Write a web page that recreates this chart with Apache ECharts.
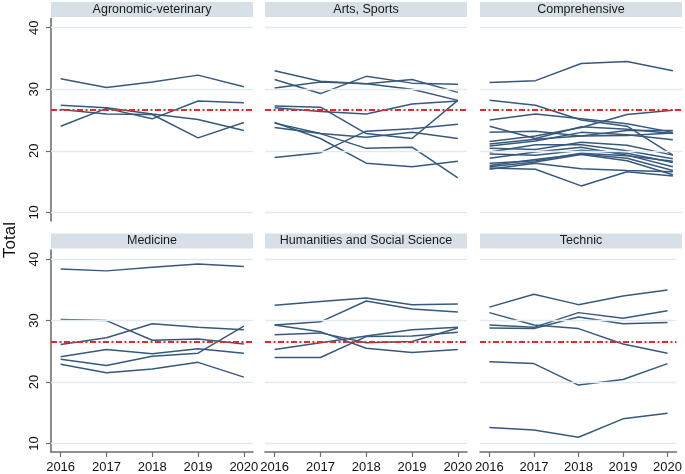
<!DOCTYPE html>
<html>
<head>
<meta charset="utf-8">
<script src="https://cdn.jsdelivr.net/npm/echarts@6/dist/echarts.min.js"></script>
<style>
html,body{margin:0;padding:0;background:#fff;}
#chart{width:685px;height:474px;}
</style>
</head>
<body>
<div id="chart"></div>
<script>
// ---------- DATA ----------
const years = [2016, 2017, 2018, 2019, 2020];
const yTickValues = [10, 20, 30, 40];
const referenceValue = 26.6;
const yAxisTitle = 'Total';
const panelNames = ['Agronomic-veterinary', 'Arts, Sports', 'Comprehensive', 'Medicine', 'Humanities and Social Science', 'Technic'];

const agronomic = [
  [31.7, 30.3, 31.2, 32.3, 30.4],
  [27.4, 27.0, 26.0, 25.1, 23.3],
  [26.7, 26.0, 25.9, 22.1, 24.6],
  [24.0, 26.9, 25.2, 28.1, 27.8]
];
const arts = [
  [33.0, 31.3, 30.9, 30.0, 28.2],
  [31.6, 29.3, 32.1, 31.0, 30.8],
  [30.2, 31.2, 30.9, 31.6, 29.5],
  [27.3, 27.1, 22.8, 22.0, 28.2],
  [27.0, 26.4, 26.0, 27.6, 28.1],
  [24.6, 22.0, 18.0, 17.4, 18.3],
  [24.5, 22.8, 20.4, 20.6, 15.6],
  [23.8, 22.8, 22.2, 23.0, 22.0],
  [18.9, 19.7, 23.2, 23.6, 24.3]
];
const comprehensive = [
  [31.1, 31.4, 34.2, 34.5, 33.0],
  [28.2, 27.4, 25.0, 24.0, 19.3],
  [25.0, 26.0, 25.2, 24.4, 23.0],
  [24.0, 22.0, 23.9, 23.5, 22.8],
  [23.0, 23.2, 22.4, 23.3, 23.3],
  [21.5, 22.4, 23.8, 25.9, 26.6],
  [21.1, 21.9, 22.4, 22.5, 22.9],
  [20.8, 21.6, 23.0, 22.6, 21.8],
  [20.4, 20.2, 21.4, 20.9, 19.3],
  [19.8, 21.0, 21.0, 20.0, 18.7],
  [19.5, 19.3, 20.1, 19.6, 18.1],
  [18.8, 19.8, 20.6, 19.3, 17.4],
  [18.0, 18.4, 19.6, 19.2, 18.3],
  [17.6, 18.6, 19.5, 18.8, 16.8],
  [17.4, 18.2, 19.4, 18.4, 16.1],
  [17.2, 17.0, 14.3, 16.6, 15.9],
  [17.0, 18.0, 17.1, 16.8, 16.6]
];
const medicine = [
  [38.4, 38.1, 38.7, 39.2, 38.8],
  [30.2, 30.0, 26.8, 27.0, 26.2],
  [26.1, 27.2, 29.5, 28.9, 28.5],
  [24.1, 25.3, 24.6, 25.4, 24.7],
  [23.7, 22.7, 24.2, 24.7, 29.1],
  [22.9, 21.5, 22.1, 23.2, 20.8]
];
const humanities = [
  [32.5, 33.1, 33.7, 32.6, 32.7],
  [29.3, 29.8, 33.2, 31.9, 31.4],
  [29.3, 28.2, 25.5, 24.8, 25.3],
  [27.7, 28.0, 26.4, 26.6, 28.8],
  [25.3, 26.4, 27.5, 28.5, 28.9],
  [24.0, 24.0, 27.4, 27.5, 28.1]
];
const technic = [
  [32.2, 34.3, 32.6, 34.0, 35.0],
  [31.3, 29.3, 28.7, 26.2, 24.7],
  [29.3, 28.9, 31.3, 30.4, 31.6],
  [28.8, 28.7, 30.6, 29.5, 29.7],
  [23.3, 23.0, 19.5, 20.4, 23.0],
  [12.6, 12.2, 11.0, 14.0, 14.9]
];
const panelData = [agronomic, arts, comprehensive, medicine, humanities, technic];

// ---------- LAYOUT / STYLE ----------
const colLeft = [51, 265, 480];
const panelWidth = 202;
const rowTop = [18.5, 250];
const panelHeight = 202.5;
const yMin = 8.6, yMax = 41.5;
const xMin = 2015.79, xMax = 2020.2;
const lineColor = '#36597d';
const gridLineColor = '#e3eaee';
const bandColor = '#d6e0e6';
const axisColor = '#6e6e6e';
const fontFamily = 'Liberation Sans, Arial, sans-serif';

const grids = [], xAxes = [], yAxes = [], series = [], graphics = [];

panelNames.forEach((name, i) => {
  const row = Math.floor(i / 3), col = i % 3;
  const left = colLeft[col], top = rowTop[row];
  grids.push({left: left, top: top, width: panelWidth, height: panelHeight, containLabel: false});
  const bottomRow = row === 1, leftCol = col === 0;
  xAxes.push({
    type: 'value', gridIndex: i, min: xMin, max: xMax,
    splitLine: {show: false},
    axisLine: {show: bottomRow, lineStyle: {color: axisColor, width: 1.6}},
    axisTick: {show: bottomRow, customValues: years, length: 5, lineStyle: {color: axisColor, width: 1.2}},
    axisLabel: {show: bottomRow, customValues: years, formatter: v => String(v), color: '#111', fontSize: 13, fontFamily: fontFamily, margin: 9}
  });
  yAxes.push({
    type: 'value', gridIndex: i, min: yMin, max: yMax,
    splitLine: {show: false},
    axisLine: {show: leftCol, onZero: false, lineStyle: {color: axisColor, width: 1.6}},
    axisTick: {show: leftCol, customValues: yTickValues, length: 5, lineStyle: {color: axisColor, width: 1.2}},
    axisLabel: {show: leftCol, customValues: yTickValues, rotate: 90, color: '#111', fontSize: 13, fontFamily: fontFamily, margin: 10}
  });
  // gridlines
  series.push({
    type: 'line', xAxisIndex: i, yAxisIndex: i, data: [], silent: true, z: 1,
    markLine: {
      silent: true, symbol: 'none', animation: false,
      label: {show: false},
      data: yTickValues.map(v => ({yAxis: v, lineStyle: {color: gridLineColor, width: 1.3, type: 'solid'}}))
    }
  });
  panelData[i].forEach(vals => {
    series.push({
      type: 'line', xAxisIndex: i, yAxisIndex: i, z: 3,
      data: years.map((y, k) => [y, vals[k]]),
      symbol: 'none', animation: false, silent: true,
      lineStyle: {color: lineColor, width: 1.5}
    });
  });
  // reference line
  series.push({
    type: 'line', xAxisIndex: i, yAxisIndex: i, data: [], silent: true, z: 5,
    markLine: {
      silent: true, symbol: 'none', animation: false,
      label: {show: false},
      data: [{yAxis: referenceValue}],
      lineStyle: {color: '#e8262b', width: 2, type: [6, 2.5, 2, 2.5]}
    }
  });
  // panel title band
  graphics.push({
    type: 'rect', shape: {x: left, y: top - 16.5, width: panelWidth, height: 15},
    style: {fill: bandColor}, silent: true
  });
  graphics.push({
    type: 'text', x: left + panelWidth / 2, y: top - 9,
    style: {text: name, fill: '#1a1a1a', font: '12.5px ' + fontFamily, textAlign: 'center', textVerticalAlign: 'middle'},
    silent: true
  });
});

graphics.push({
  type: 'text', x: 10, y: 240, rotation: Math.PI / 2,
  style: {text: yAxisTitle, fill: '#111', font: '17px ' + fontFamily, textAlign: 'center', textVerticalAlign: 'middle'},
  silent: true
});

const chart = echarts.init(document.getElementById('chart'), null, {renderer: 'canvas'});
chart.setOption({
  animation: false,
  backgroundColor: '#ffffff',
  grid: grids, xAxis: xAxes, yAxis: yAxes, series: series, graphic: graphics
});
</script>
</body>
</html>
